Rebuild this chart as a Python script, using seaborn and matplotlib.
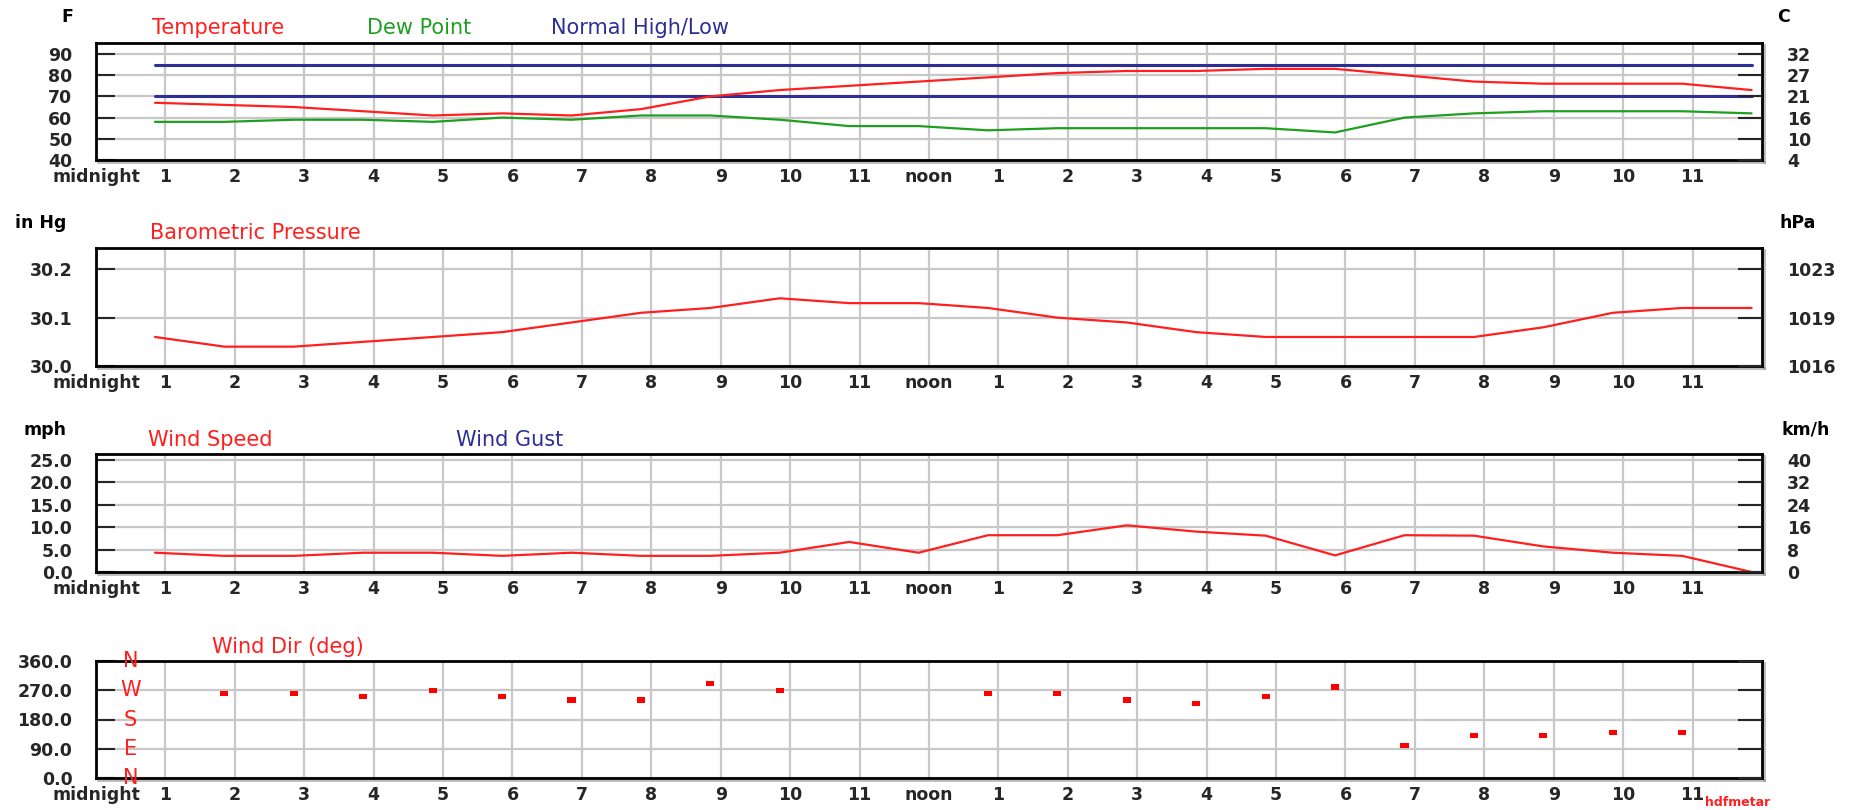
import numpy as np
import pandas as pd
import seaborn as sns
import matplotlib.pyplot as plt
import matplotlib.patheffects as pe
from matplotlib.path import Path
from matplotlib.markers import MarkerStyle

# Observation times (hours after midnight, reports at about :51)
obs_hours = [0.85, 1.85, 2.85, 3.85, 4.85, 5.85, 6.85, 7.85, 8.85, 9.85, 10.85, 11.85,
             12.85, 13.85, 14.85, 15.85, 16.85, 17.85, 18.85, 19.85, 20.85, 21.85, 22.85, 23.85]

temp_f = [67, 66, 65, 63, 61, 62, 61, 64, 70, 73, 75, 77,
          79, 81, 82, 82, 83, 83, 80, 77, 76, 76, 76, 73]
dew_f = [58, 58, 59, 59, 58, 60, 59, 61, 61, 59, 56, 56,
         54, 55, 55, 55, 55, 53, 60, 62, 63, 63, 63, 62]
normal_high_f = 85
normal_low_f = 70

pressure_inhg = [30.06, 30.04, 30.04, 30.05, 30.06, 30.07, 30.09, 30.11, 30.12, 30.14, 30.13, 30.13,
                 30.12, 30.10, 30.09, 30.07, 30.06, 30.06, 30.06, 30.06, 30.08, 30.11, 30.12, 30.12]

wind_mph = [4.3, 3.6, 3.6, 4.3, 4.3, 3.6, 4.3, 3.6, 3.6, 4.3, 6.7, 4.3,
            8.2, 8.2, 10.4, 9.0, 8.1, 3.7, 8.2, 8.1, 5.7, 4.3, 3.6, 0.0]

wind_dir = [np.nan, 260, 260, 250, 270, 250, 240, 240, 290, 270, np.nan, np.nan,
            260, 260, 240, 230, 250, 280, 100, 130, 130, 140, 140, np.nan]

hour_labels = ['midnight', '1', '2', '3', '4', '5', '6', '7', '8', '9', '10', '11',
               'noon', '1', '2', '3', '4', '5', '6', '7', '8', '9', '10', '11']

temp_ticks = [40, 50, 60, 70, 80, 90]
pres_ticks = [30.0, 30.1, 30.2]
wind_ticks = [0, 5, 10, 15, 20, 25]
dir_ticks = [0, 90, 180, 270, 360]
compass = ['N', 'E', 'S', 'W', 'N']

RED = '#ff1f1f'
GREEN = '#1f9f1f'
NAVY = '#2e2e96'
GRID = '#c8c8c8'

df = pd.DataFrame({'hour': obs_hours, 'temp': temp_f, 'dew': dew_f,
                   'pres': pressure_inhg, 'wind': wind_mph, 'dir': wind_dir})
df['high'] = normal_high_f
df['low'] = normal_low_f

sns.set_style('white')
plt.rcParams['font.family'] = ['DejaVu Sans']

W, H = 1858, 810
fig = plt.figure(figsize=(W / 100, H / 100), dpi=100)


def px(x, y):
    return x / W, 1 - y / H


left, width = 96 / W, 1666 / W
tops = [43, 248, 454, 661]
heights = [117, 118, 118, 117]
axes = [fig.add_axes([left, 1 - (t + h) / H, width, h / H]) for t, h in zip(tops, heights)]


def style_axis(ax, ticks, ylim, left_labels, right_labels):
    ax.set_xlim(0, 24)
    ax.set_ylim(*ylim)
    ax.set_xlabel('')
    ax.set_ylabel('')
    ax.set_xticks(range(24))
    ax.set_xticklabels(hour_labels, fontweight='bold')
    ax.set_yticks(ticks)
    ax.set_yticklabels(left_labels, fontweight='bold')
    ax.grid(True, color=GRID, lw=1.6)
    ax.set_axisbelow(True)
    ax.tick_params(axis='x', direction='in', length=4.5, width=1.5, pad=6, labelsize=12.5)
    ax.tick_params(axis='y', direction='in', length=14, width=1.5, pad=17, labelsize=12.5)
    for s in ax.spines.values():
        s.set_linewidth(2)
        s.set_color('black')
    for side in ['bottom', 'right']:
        ax.spines[side].set_path_effects([pe.SimpleLineShadow(offset=(1.5, -1.5), shadow_color='0.55', alpha=0.6),
                                          pe.Normal()])
    ax2 = ax.twinx()
    ax2.set_ylim(*ylim)
    ax2.set_yticks(ticks)
    ax2.set_yticklabels(right_labels, fontweight='bold')
    ax2.tick_params(axis='y', direction='in', length=17, width=1.5, pad=18, labelsize=12.5)
    for s in ax2.spines.values():
        s.set_visible(False)
    return ax2


# Temperature panel
ax = axes[0]
sns.lineplot(data=df, x='hour', y='high', color=NAVY, lw=2.2, ax=ax)
sns.lineplot(data=df, x='hour', y='low', color=NAVY, lw=2.2, ax=ax)
sns.lineplot(data=df, x='hour', y='dew', color=GREEN, lw=1.6, ax=ax)
sns.lineplot(data=df, x='hour', y='temp', color=RED, lw=1.6, ax=ax)
style_axis(ax, temp_ticks, (40, 95.2), [str(t) for t in temp_ticks],
           [str(int(round((t - 32) * 5 / 9))) for t in temp_ticks])

# Pressure panel
ax = axes[1]
sns.lineplot(data=df, x='hour', y='pres', color=RED, lw=1.6, ax=ax)
style_axis(ax, pres_ticks, (30.0, 30.244), [f'{t:.1f}' for t in pres_ticks],
           [str(int(round(t * 33.8639))) for t in pres_ticks])

# Wind speed panel
ax = axes[2]
sns.lineplot(data=df, x='hour', y='wind', color=RED, lw=1.6, ax=ax)
style_axis(ax, wind_ticks, (0, 26.3), [f'{t:.1f}' for t in wind_ticks],
           [str(int(round(t * 1.609344))) for t in wind_ticks])

# Wind direction panel
ax = axes[3]
rect = MarkerStyle(Path([(-1.6, -1), (1.6, -1), (1.6, 1), (-1.6, 1), (-1.6, -1)], closed=True))
sns.scatterplot(data=df, x='hour', y='dir', color='red', marker=rect, s=34,
                edgecolor='none', linewidth=0, ax=ax)
style_axis(ax, dir_ticks, (0, 360), [f'{t:.1f}' for t in dir_ticks], ['' for t in dir_ticks])
for deg, letter in zip(dir_ticks, compass):
    ax.text(0.5, deg, letter, color=RED, ha='center', va='center', fontsize=15)

# Titles and unit labels
title_kw = dict(fontsize=15, va='center', ha='left')
unit_kw = dict(fontsize=12.5, fontweight='bold', va='center', ha='center', color='black')

fig.text(*px(67, 17), 'F', **unit_kw)
fig.text(*px(1784, 17), 'C', **unit_kw)
fig.text(*px(152, 28), 'Temperature', color=RED, **title_kw)
fig.text(*px(367, 28), 'Dew Point', color=GREEN, **title_kw)
fig.text(*px(551, 28), 'Normal High/Low', color=NAVY, **title_kw)

fig.text(*px(41, 223), 'in Hg', **unit_kw)
fig.text(*px(1798, 223), 'hPa', **unit_kw)
fig.text(*px(150, 233), 'Barometric Pressure', color=RED, **title_kw)

fig.text(*px(45, 430), 'mph', **unit_kw)
fig.text(*px(1806, 430), 'km/h', **unit_kw)
fig.text(*px(148, 440), 'Wind Speed', color=RED, **title_kw)
fig.text(*px(456, 440), 'Wind Gust', color=NAVY, **title_kw)

fig.text(*px(212, 647), 'Wind Dir (deg)', color=RED, **title_kw)
fig.text(*px(1705, 803), 'hdfmetar', color=RED, fontsize=9, fontweight='bold', va='center', ha='left')

fig.savefig('out.png', dpi=100, facecolor='white')
plt.close(fig)
